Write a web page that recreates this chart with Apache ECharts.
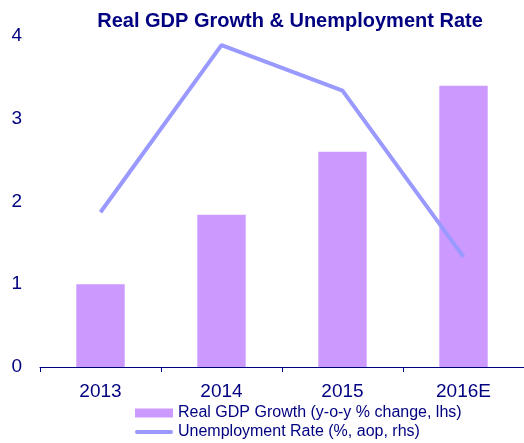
<!DOCTYPE html>
<html><head><meta charset="utf-8">
<script src="https://cdn.jsdelivr.net/npm/echarts@6/dist/echarts.min.js"></script>
<style>html,body{margin:0;padding:0;background:#fff}#c{width:524px;height:443px}</style>
</head><body><div id="c"></div>
<script>
const categories = ['2013', '2014', '2015', '2016E'];
const gdpGrowth = [1.0, 1.84, 2.6, 3.4];
const unemployment = [1.87, 3.89, 3.34, 1.33];
const yTicks = [0, 1, 2, 3, 4];
const seriesNames = ['Real GDP Growth (y-o-y % change, lhs)', 'Unemployment Rate (%, aop, rhs)'];

const navy = '#000080';
const font = 'Liberation Sans, Arial, sans-serif';
const chart = echarts.init(document.getElementById('c'));
const legendText = { color: navy, fontSize: 16, fontFamily: font };
chart.setOption({
  animation: false,
  textStyle: { fontFamily: font },
  title: {
    text: 'Real GDP Growth & Unemployment Rate',
    left: 285, textAlign: 'center', top: 6,
    textStyle: { color: navy, fontSize: 20, fontWeight: 'bold', fontFamily: font }
  },
  legend: [
    {
      left: 135, top: 405, itemWidth: 38, itemHeight: 9, padding: 0,
      textStyle: legendText,
      data: [{ name: seriesNames[0], icon: 'rect' }]
    },
    {
      left: 135, top: 424, itemWidth: 38, itemHeight: 4, padding: 0,
      textStyle: legendText,
      data: [{ name: seriesNames[1], icon: 'path://M2,0 L38,0 A2,2 0 0 1 38,4 L2,4 A2,2 0 0 1 2,0 Z' }]
    }
  ],
  grid: { left: 40, right: 0, top: 36, bottom: 76 },
  xAxis: {
    type: 'category', data: categories,
    axisLine: { lineStyle: { color: navy, width: 1 } },
    axisTick: { show: true, length: 5, lineStyle: { color: navy } },
    axisLabel: { color: navy, fontSize: 19, margin: 15 }
  },
  yAxis: [
    {
      type: 'value', min: yTicks[0], max: yTicks[yTicks.length - 1], interval: 1,
      axisLine: { show: false }, axisTick: { show: false }, splitLine: { show: false },
      axisLabel: { color: navy, fontSize: 19, margin: 18 }
    },
    {
      type: 'value', min: yTicks[0], max: yTicks[yTicks.length - 1], interval: 1, show: false
    }
  ],
  series: [
    {
      name: seriesNames[0], type: 'bar', data: gdpGrowth,
      barWidth: '40%', itemStyle: { color: '#CC99FF' }
    },
    {
      name: seriesNames[1], type: 'line', yAxisIndex: 1, data: unemployment,
      symbol: 'none', lineStyle: { color: '#9999FF', width: 4 }, itemStyle: { color: '#9999FF' }
    }
  ]
});
</script></body></html>
